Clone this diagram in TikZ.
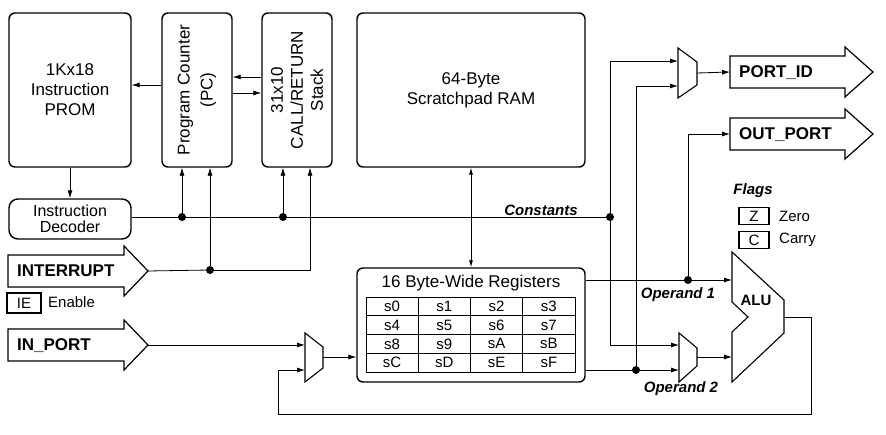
\documentclass[tikz,border=0pt]{standalone}
\usepackage{fontspec}
\setmainfont{Liberation Sans}
\usetikzlibrary{arrows.meta,calc}
\begin{document}
\begin{tikzpicture}[x=1pt,y=-1pt,
  blk/.style={draw, line width=1.4pt, rounded corners=6pt, inner sep=0pt, align=center, font=\fontsize{17}{20}\selectfont},
  vtext/.style={rotate=90, align=center, inner sep=0pt, font=\fontsize{17}{20}\selectfont},
  con/.style={line width=0.8pt},
  arr/.style={con, -{Latex[length=8pt,width=5pt]}},
  dbl/.style={con, {Latex[length=7pt,width=4pt]}-{Latex[length=7pt,width=4pt]}},
  dot/.style={circle, fill, inner sep=0pt, minimum size=8pt},
  fat/.style={draw, line width=1.2pt, line join=miter, fill=white},
  fattext/.style={anchor=base west, inner sep=0pt, font=\fontsize{17}{20}\selectfont\bfseries},
  mux/.style={draw, line width=1.1pt, line join=miter, fill=white},
  lab/.style={inner sep=0pt, font=\fontsize{15}{18}\selectfont\bfseries\itshape},
  small/.style={inner sep=0pt, font=\fontsize{15}{18}\selectfont},
  flag/.style={draw, line width=1.2pt, minimum width=30pt, minimum height=17pt, inner sep=0pt, font=\fontsize{15}{18}\selectfont},
  cell/.style={inner sep=0pt, font=\fontsize{15}{18}\selectfont}
]
\useasboundingbox (0,0) rectangle (886,435);

% main blocks
\node[blk, minimum width=122pt, minimum height=154pt] (prom) at (70,90) {1Kx18\\Instruction\\PROM};
\node[blk, minimum width=70pt, minimum height=154pt] (pc) at (197,90) {};
\node[vtext, font=\fontsize{17}{23}\selectfont] (pct) at (pc.center) {Program Counter\\(PC)};
\node[blk, minimum width=70pt, minimum height=154pt] (stack) at (297,90) {};
\node[vtext] (stt) at (stack.center) {31x10\\CALL/RETURN\\Stack};
\node[blk, minimum width=228pt, minimum height=154pt] (ram) at (471,90) {64-Byte\\Scratchpad RAM};
\node[blk, minimum width=122pt, minimum height=40pt, rounded corners=9pt, font=\fontsize{16}{16}\selectfont] (dec) at (70,219) {Instruction\\Decoder};
\node[blk, minimum width=228pt, minimum height=114pt] (reg) at (471,325) {};
\node[inner sep=0pt, font=\fontsize{17}{20}\selectfont] (regt) at (471,283) {16 Byte-Wide Registers};

% register table
\draw[line width=0.9pt] (366,297) rectangle (575,372);
\foreach \xx in {418.25,470.5,522.75} \draw[line width=0.9pt] (\xx,297) -- (\xx,372);
\foreach \yy in {315.75,334.5,353.25} \draw[line width=0.9pt] (366,\yy) -- (575,\yy);
\foreach \r/\a/\b/\c/\d in {0/s0/s1/s2/s3,1/s4/s5/s6/s7,2/s8/s9/sA/sB,3/sC/sD/sE/sF}{
  \node[cell] (\a) at (392.1,{306.4+18.75*\r}) {\a};
  \node[cell] (\b) at (444.4,{306.4+18.75*\r}) {\b};
  \node[cell] (\c) at (496.6,{306.4+18.75*\r}) {\c};
  \node[cell] (\d) at (548.9,{306.4+18.75*\r}) {\d};
}

% fat arrows
\foreach \nm/\xl/\xb/\xt/\yc/\txt in {intr/8/124/148/271/INTERRUPT, inp/8/124/148/345/IN\_PORT, pid/730/845/873/72/PORT\_ID, outp/730/845/873/134/OUT\_PORT}{
  \draw[fat] (\xl,{\yc-16}) -- (\xb,{\yc-16}) -- (\xb,{\yc-25}) -- (\xt,\yc) -- (\xb,{\yc+25}) -- (\xb,{\yc+16}) -- (\xl,{\yc+16}) -- cycle;
  \node[fattext] (\nm-t) at ({\xl+9},{\yc+6}) {\txt};
  \coordinate (\nm) at (\xt,\yc);
  \coordinate (\nm-in) at (\xl,\yc);
}

% multiplexers
\draw[mux] (678,48) -- (697,62) -- (697,85) -- (678,98) -- cycle;
\coordinate (pmA) at (678,61); \coordinate (pmB) at (678,86); \coordinate (pmO) at (697,73);
\draw[mux] (305,333) -- (323,347) -- (323,368) -- (305,382) -- cycle;
\coordinate (m1A) at (305,345); \coordinate (m1B) at (305,370); \coordinate (m1O) at (323,357);
\draw[mux] (679,333) -- (697,348) -- (697,366) -- (679,382) -- cycle;
\coordinate (m2A) at (679,345); \coordinate (m2B) at (679,370); \coordinate (m2O) at (697,357);

% ALU
\draw[mux] (732,252) -- (784,300) -- (784,333) -- (732,382) -- (732,332) -- (748,317) -- (732,302) -- cycle;
\node[inner sep=0pt, font=\fontsize{15}{18}\selectfont\bfseries] (alu) at (756,300) {ALU};
\coordinate (aluA) at (732,280); \coordinate (aluB) at (732,357); \coordinate (aluO) at (784,317);

% junction dots
\node[dot] (d1) at (182,217) {};
\node[dot] (d2) at (283,217) {};
\node[dot] (dc) at (610,217) {};
\node[dot] (di) at (210,270) {};
\node[dot] (d3) at (688,280) {};
\node[dot] (d4) at (636,370) {};
\coordinate (ic) at (310,270);
\coordinate (fbR) at (811,414);
\coordinate (fbL) at (278,414);

% connectors
\draw[arr] (pc.west |- 0,85) -- (prom.east |- 0,85);
\draw[arr] (stack.west |- 0,77) -- (pc.east |- 0,77);
\draw[arr] (pc.east |- 0,93) -- (stack.west |- 0,93);
\draw[arr] (prom.south) -- (dec.north);
\draw[con] (dec.east |- dc) -- (dc);
\draw[arr] (d1) -- (d1 |- pc.south);
\draw[arr] (d2) -- (d2 |- stack.south);
\draw[con] (intr) -- (di);
\draw[arr] (di) -- (di |- pc.south);
\draw[arr] (di) -- (ic) -- (ic |- stack.south);
\draw[dbl] (ram.south) -- (reg.north);
\draw[arr] (inp) -- (m1A);
\draw[arr] (m1O) -- (m1O -| reg.west);
\draw[arr] (aluO) -| (fbR) -- (fbL) |- (m1B);
\draw[arr] (reg.east |- aluA) -- (aluA);
\draw[arr] (d3) |- (outp-in);
\draw[arr] (reg.east |- m2B) -- (m2B);
\draw[arr] (d4) |- (pmB);
\draw[arr] (dc) |- (pmA);
\draw[arr] (dc) |- (m2A);
\draw[arr] (m2O) -- (aluB);
\draw[arr] (pmO) -- (pid-in);

% labels
\node[lab] (constl) at (541,210) {Constants};
\node[lab] (op1) at (678,295) {Operand 1};
\node[lab] (op2) at (681,389) {Operand 2};
\node[lab] (flg) at (753,191) {Flags};
\node[flag] (zf) at (754,216) {Z};
\node[small, anchor=west] (zl) at (779,216) {Zero};
\node[flag] (cf) at (754,240) {C};
\node[small, anchor=west] (cl) at (779,240) {Carry};
\node[flag, minimum width=34pt, minimum height=20pt] (ie) at (24,303) {IE};
\node[small, anchor=west] (iel) at (48,302) {Enable};
\end{tikzpicture}
\end{document}
